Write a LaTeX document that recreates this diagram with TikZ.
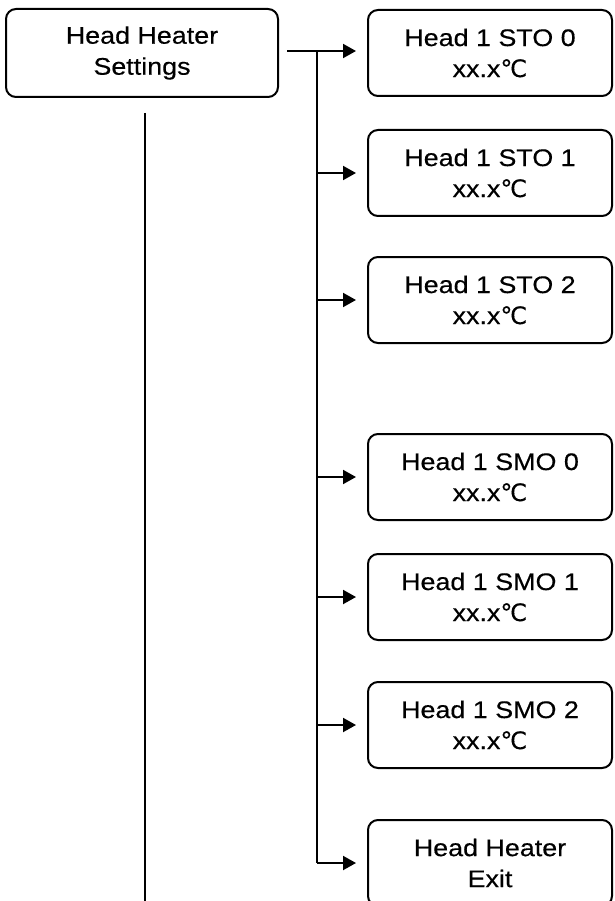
\documentclass[tikz,border=0pt]{standalone}
\usepackage{fontspec}
\setmainfont{Liberation Sans}[FakeStretch=1.12, FakeBold=0.4]
\newfontfamily\degfont{DejaVu Sans}[FakeStretch=1.0, FakeBold=0.3]
\usetikzlibrary{arrows.meta}
\newcommand{\degC}{{\degfont ℃}}
\tikzset{
    menubox/.style={draw, line width=2pt, rounded corners=10pt, align=center,
                    minimum width=244pt, minimum height=86pt, inner sep=0pt,
                    font=\fontsize{24}{31}\selectfont},
    link/.style={line width=2pt, -{Triangle[length=13pt,width=14pt]}, shorten >=11pt},
    trunk/.style={line width=2pt}
}

\begin{document}
\begin{tikzpicture}[x=1pt, y=-1pt]
            \useasboundingbox                                              (0,0) rectangle (614,901);
            \node[menubox, minimum width=272pt, minimum height=88pt] (set)   at (142, 53) {Head Heater\\Settings};
            \node[menubox] (sto0) at (490, 53) {Head 1 STO 0\\xx.x\degC};
            \node[menubox] (sto1) at (490,173) {Head 1 STO 1\\xx.x\degC};
            \node[menubox] (sto2) at (490,300) {Head 1 STO 2\\xx.x\degC};
            \node[menubox] (smo0) at (490,477) {Head 1 SMO 0\\xx.x\degC};
            \node[menubox] (smo1) at (490,597) {Head 1 SMO 1\\xx.x\degC};
            \node[menubox] (smo2) at (490,725) {Head 1 SMO 2\\xx.x\degC};
            \node[menubox] (exit) at (490,863) {Head Heater\\Exit};
            \coordinate (split)   at (317, 51);
            \coordinate (downtop) at (145,113);
            \coordinate (downbot) at (145,901);
            % menu level arrows
            \draw[link, shorten <=8pt] (set.east |- split) -- (sto0.west |- split);
            \draw[trunk]               (split) -- (split |- exit);
            \foreach \item in {sto1,sto2,smo0,smo1,smo2}
                \draw[link] (split |- \item) -- (\item.west);
            \draw[link]                (split |- exit) -- (exit.west);
            \draw[trunk]               (downtop) -- (downbot);
        \end{tikzpicture}
\end{document}
